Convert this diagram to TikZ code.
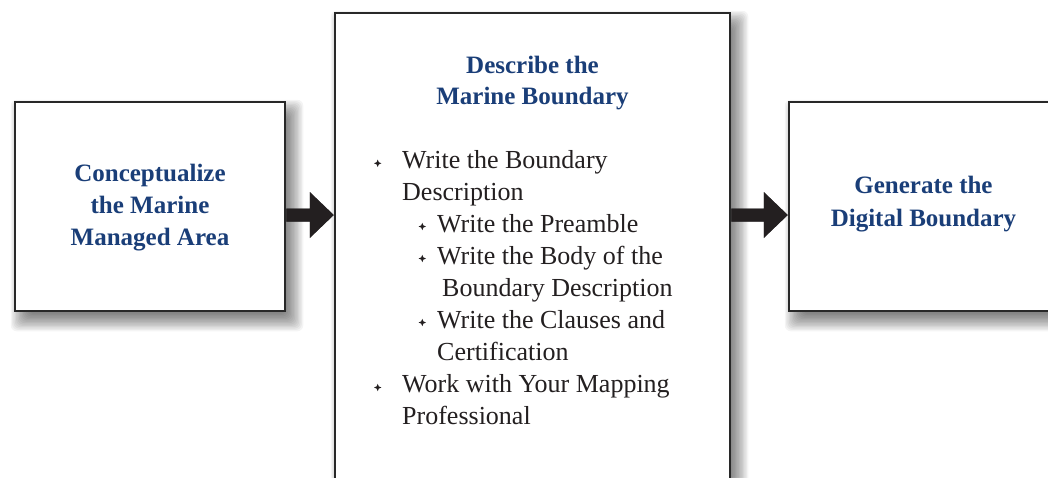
\documentclass[tikz,border=0pt]{standalone}
\usepackage{fontspec}
\setmainfont{Liberation Serif}
\usetikzlibrary{calc,backgrounds}
\definecolor{titleblue}{RGB}{26,62,120}
\definecolor{ink}{RGB}{35,31,32}
\definecolor{framec}{RGB}{40,40,40}
\newcommand\softshadow[1]{%
  \foreach \k in {0,...,13}{%
    \pgfmathsetmacro\rr{10-1.35*\k}%
    \fill[black, opacity=0.045, rounded corners=6pt]
      ($(#1.south west)+(7-\rr,-9-\rr)$) rectangle ($(#1.north east)+(7+\rr,-9+\rr)$);
  }%
}
\newcommand\arrowpath[2]{($(#1)+(0,6.5)$) -- ($(#2)+(-24,6.5)$) -- ($(#2)+(-24,23)$) -- (#2)
  -- ($(#2)+(-24,-23)$) -- ($(#2)+(-24,-6.5)$) -- ($(#1)+(0,-6.5)$) -- cycle}
\begin{document}
\begin{tikzpicture}[x=1pt,y=1pt,
  box/.style={draw=framec, line width=2.5pt, fill=white, inner sep=0pt},
  ttl/.style={text=titleblue, font=\fontsize{25}{31}\selectfont\bfseries, anchor=base, inner sep=0pt},
  itm/.style={text=ink, font=\fontsize{26}{32}\selectfont, anchor=base west, inner sep=0pt},
  bigarrow/.style={fill=ink, draw=none},
  arrowshade/.style={fill=black, opacity=0.065},
  bul/.style={fill=ink}
]
\useasboundingbox (0,0) rectangle (1048,-477);

% boxes
\node[box, minimum width=270pt, minimum height=209pt] (L) at (150,-206.5) {};
\node[box, minimum width=395pt, minimum height=547pt] (M) at (532.5,-286.5) {};
\node[box, minimum width=269pt, minimum height=209pt] (R) at (923.5,-206.5) {};

\begin{pgfonlayer}{background}
  \fill[white] (0,0) rectangle (1048,-477);
  \softshadow{L}
  \softshadow{M}
  \softshadow{R}
\end{pgfonlayer}

% titles
\node[ttl] (lt1) at (150,-181) {Conceptualize};
\node[ttl] (lt2) at (150,-213) {the Marine};
\node[ttl] (lt3) at (150,-245) {Managed Area};
\node[ttl] (mt1) at (532.5,-73) {Describe the};
\node[ttl] (mt2) at (532.5,-104) {Marine Boundary};
\node[ttl] (rt1) at (923.5,-193) {Generate the};
\node[ttl] (rt2) at (923.5,-226) {Digital Boundary};

% list items
\node[itm] (i1) at (402,-168) {Write the Boundary};
\node[itm] (i2) at (402,-200) {Description};
\node[itm] (i3) at (437,-232) {Write the Preamble};
\node[itm] (i4) at (437,-264) {Write the Body of the};
\node[itm] (i5) at (442,-296) {Boundary Description};
\node[itm] (i6) at (437,-328) {Write the Clauses and};
\node[itm] (i7) at (437,-360) {Certification};
\node[itm] (i8) at (402,-392) {Work with Your Mapping};
\node[itm] (i9) at (402,-424) {Professional};

% bullets
\foreach \bx/\by in {377.7/-163.3, 422.3/-226.5, 422.3/-258.5, 422.3/-322.5, 377.7/-387.5}{
  \fill[bul, shift={(\bx,\by)}] (0,3.7) -- (1.1,1.1) -- (3.7,0) -- (1.1,-1.1) -- (0,-3.7) -- (-1.1,-1.1) -- (-3.7,0) -- (-1.1,1.1) -- cycle;
}

% arrows
\coordinate (a1s) at ($(L.east)+(0,-8.5)$);
\coordinate (a1e) at (a1s -| M.west);
\coordinate (a2s) at (M.east |- a1s);
\coordinate (a2e) at (a1s -| R.west);
\foreach \dx/\dy in {1/-4,4/-4,7/-4,1/-7,4/-7,7/-7,1/-10,4/-10,7/-10,4/-13,10/-7}{
  \begin{scope}[shift={(\dx,\dy)}]
    \fill[arrowshade] \arrowpath{a1s}{a1e};
    \fill[arrowshade] \arrowpath{a2s}{a2e};
  \end{scope}
}
\fill[bigarrow] \arrowpath{a1s}{a1e};
\fill[bigarrow] \arrowpath{a2s}{a2e};
\end{tikzpicture}
\end{document}
